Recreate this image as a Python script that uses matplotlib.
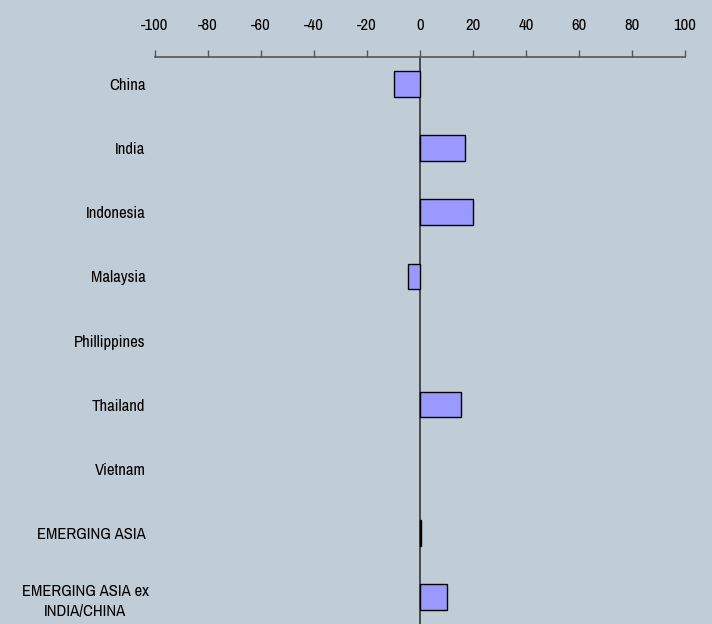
import matplotlib.pyplot as plt
import matplotlib.transforms as mtransforms

# Data
countries = ['China', 'India', 'Indonesia', 'Malaysia', 'Phillippines',
             'Thailand', 'Vietnam', 'EMERGING ASIA', 'EMERGING ASIA ex\nINDIA/CHINA']
values = [-10, 17, 20, -4.5, 0, 15.5, 0, 0.4, 10]
xticks = [-100, -80, -60, -40, -20, 0, 20, 40, 60, 80, 100]

bg = '#c1cdd6'
plt.rcParams['font.family'] = ['Archivo Narrow', 'Liberation Sans', 'DejaVu Sans']

fig = plt.figure(figsize=(7.12, 6.24), dpi=100, facecolor=bg)
ax = fig.add_axes([155 / 712, 0, 530 / 712, 567 / 624], facecolor=bg)

pos = list(range(len(countries)))
# no outline for empty rows
widths = [1 if v != 0 else 0 for v in values]
ax.barh(pos, values, height=0.4, color='#9999ff', edgecolor='black', linewidth=widths)
ax.axvline(0, color='#333333', linewidth=1.2, zorder=0)

ax.set_xlim(-100, 100)
ax.set_ylim(8.42, -0.42)
ax.set_xticks(xticks)
ax.set_xticklabels([str(t) for t in xticks], fontsize=12)
ax.xaxis.tick_top()
ax.tick_params(axis='x', direction='out', length=5, width=1, color='#555555', pad=12)

ax.set_yticks(pos)
labels = ax.set_yticklabels(countries, fontsize=12, ha='right')
ax.tick_params(axis='y', length=0, pad=7)

# the two-line label sits centred further left
last = labels[-1]
last.set_ha('center')
last.set_multialignment('center')
last.set_linespacing(1.45)
last.set_transform(last.get_transform() +
                   mtransforms.ScaledTranslation(-0.60, 0, fig.dpi_scale_trans))

for s in ['left', 'right', 'bottom']:
    ax.spines[s].set_visible(False)
ax.spines['top'].set_color('#555555')
ax.spines['top'].set_linewidth(1.2)

fig.savefig('out.png', dpi=100, facecolor=bg)
